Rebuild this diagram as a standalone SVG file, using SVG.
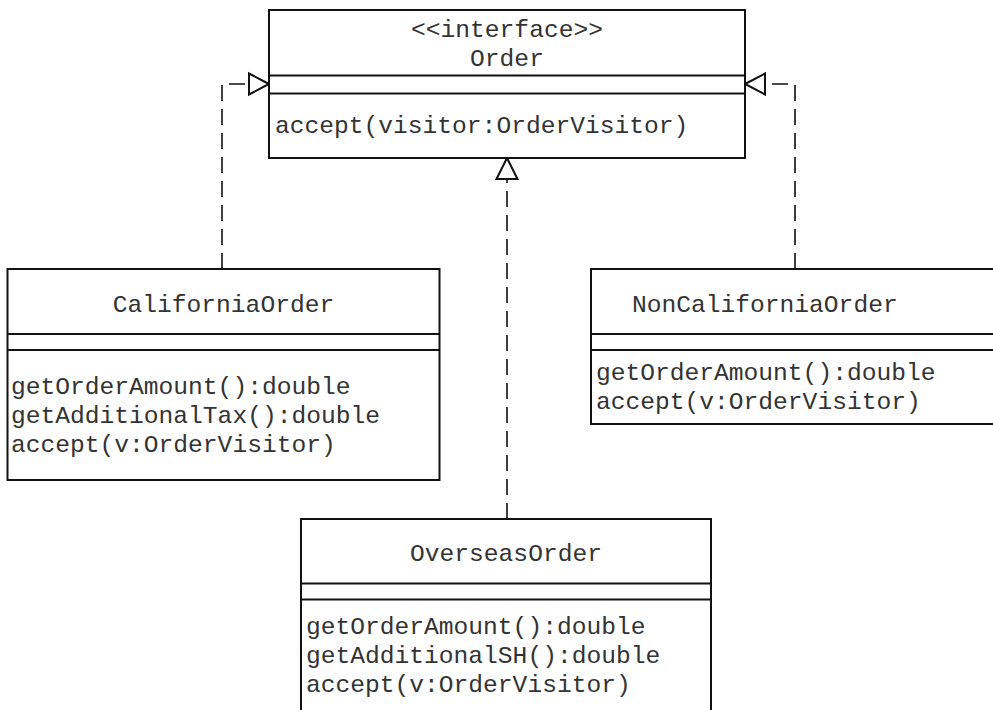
<svg xmlns="http://www.w3.org/2000/svg" width="993" height="710" viewBox="0 0 993 710">
<style>
.box{fill:#fff;stroke:#111;stroke-width:2}
.sep{stroke:#111;stroke-width:2}
.t{font-family:"Liberation Mono","Courier New",monospace;font-size:24.6px;fill:#333}
.c{text-anchor:middle}
.dash{fill:none;stroke:#111;stroke-width:1.6;stroke-dasharray:16 8}
.head{fill:#fff;stroke:#111;stroke-width:2}
</style>
<rect width="993" height="710" fill="#fff"/>
<g id="connectors">
<path class="dash" d="M222,269 V84 H249"/>
<polygon class="head" points="269,84 249,73.5 249,94.5"/>
<path class="dash" d="M795,269 V84 H765"/>
<polygon class="head" points="745,84 765,73.5 765,94.5"/>
<path class="dash" d="M507,519 V179"/>
<polygon class="head" points="507,158 496.5,179 517.5,179"/>
</g>
<g id="Order">
<rect class="box" x="269" y="10" width="476" height="148"/>
<line class="sep" x1="269" y1="75.5" x2="745" y2="75.5"/>
<line class="sep" x1="269" y1="93.5" x2="745" y2="93.5"/>
<text class="t c" x="507" y="37">&lt;&lt;interface&gt;&gt;</text>
<text class="t c" x="507" y="66">Order</text>
<text class="t" x="275" y="133">accept(visitor:OrderVisitor)</text>
</g>
<g id="CaliforniaOrder">
<rect class="box" x="7.5" y="269" width="432" height="211"/>
<line class="sep" x1="7.5" y1="334" x2="439.5" y2="334"/>
<line class="sep" x1="7.5" y1="350" x2="439.5" y2="350"/>
<text class="t c" x="223.5" y="312">CaliforniaOrder</text>
<text class="t" x="11" y="394">getOrderAmount():double</text>
<text class="t" x="11" y="423">getAdditionalTax():double</text>
<text class="t" x="11" y="452">accept(v:OrderVisitor)</text>
</g>
<g id="NonCaliforniaOrder">
<rect class="box" x="591" y="269" width="420" height="155"/>
<line class="sep" x1="591" y1="334" x2="1011" y2="334"/>
<line class="sep" x1="591" y1="350" x2="1011" y2="350"/>
<text class="t" x="632" y="312">NonCaliforniaOrder</text>
<text class="t" x="596" y="380">getOrderAmount():double</text>
<text class="t" x="596" y="409">accept(v:OrderVisitor)</text>
</g>
<g id="OverseasOrder">
<rect class="box" x="301" y="519" width="410" height="200"/>
<line class="sep" x1="301" y1="583.5" x2="711" y2="583.5"/>
<line class="sep" x1="301" y1="599.5" x2="711" y2="599.5"/>
<text class="t c" x="506" y="561">OverseasOrder</text>
<text class="t" x="306" y="634">getOrderAmount():double</text>
<text class="t" x="306" y="663">getAdditionalSH():double</text>
<text class="t" x="306" y="692">accept(v:OrderVisitor)</text>
</g>
</svg>
